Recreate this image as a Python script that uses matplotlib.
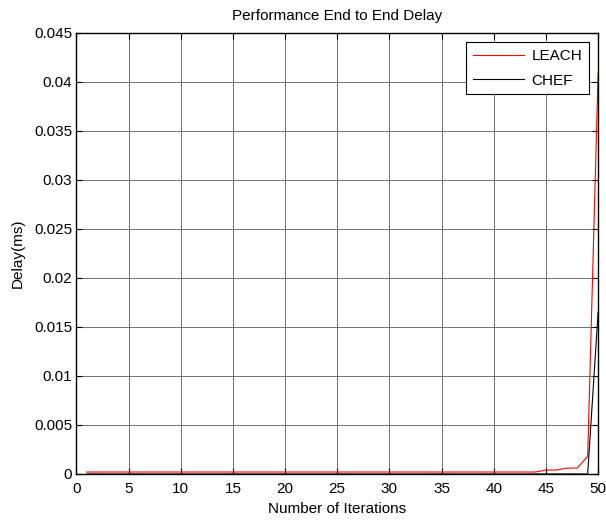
import matplotlib
matplotlib.use("Agg")
import matplotlib.pyplot as plt
import numpy as np

plt.rcParams['font.family'] = ['Liberation Sans', 'DejaVu Sans']

iterations = list(range(1, 51))
leach = [0.0002] * 44 + [0.0004, 0.0004, 0.0006, 0.0006, 0.0018, 0.0409]
chef = [0.0] * 49 + [0.0165]

x_ticks = [0, 5, 10, 15, 20, 25, 30, 35, 40, 45, 50]
y_ticks = [0, 0.005, 0.01, 0.015, 0.02, 0.025, 0.03, 0.035, 0.04, 0.045]
y_labels = ['0', '0.005', '0.01', '0.015', '0.02', '0.025', '0.03', '0.035', '0.04', '0.045']

fig = plt.figure(figsize=(6.06, 5.22), dpi=100)
ax = fig.add_axes([0.126, 0.092, 0.861, 0.845])

ax.plot(iterations, leach, color='red', lw=0.8, label='LEACH')
ax.plot(iterations, chef, color='black', lw=0.8, label='CHEF')

ax.set_xlim(0, 50)
ax.set_ylim(0, 0.045)
ax.set_xticks(x_ticks)
ax.set_yticks(y_ticks)
ax.set_yticklabels(y_labels)
ax.tick_params(direction='in', top=True, right=True, labelsize=11, length=4, width=0.8)
ax.tick_params(axis='x', pad=6)
ax.tick_params(axis='y', pad=3)
ax.grid(True, color='#707070', linestyle='-', linewidth=0.7)
for s in ax.spines.values():
    s.set_linewidth(1.0)

ax.set_title('Performance End to End Delay', fontsize=11, pad=9)
ax.set_xlabel('Number of Iterations', fontsize=11, labelpad=4)
ax.set_ylabel('Delay(ms)', fontsize=11, labelpad=7)

leg = ax.legend(loc='upper right', fontsize=11, fancybox=False, framealpha=1,
                edgecolor='black', borderaxespad=0.6, handlelength=3.3,
                handletextpad=0.5, borderpad=0.45, labelspacing=0.7)
leg.get_frame().set_linewidth(0.8)

fig.savefig('out.png', dpi=100)
